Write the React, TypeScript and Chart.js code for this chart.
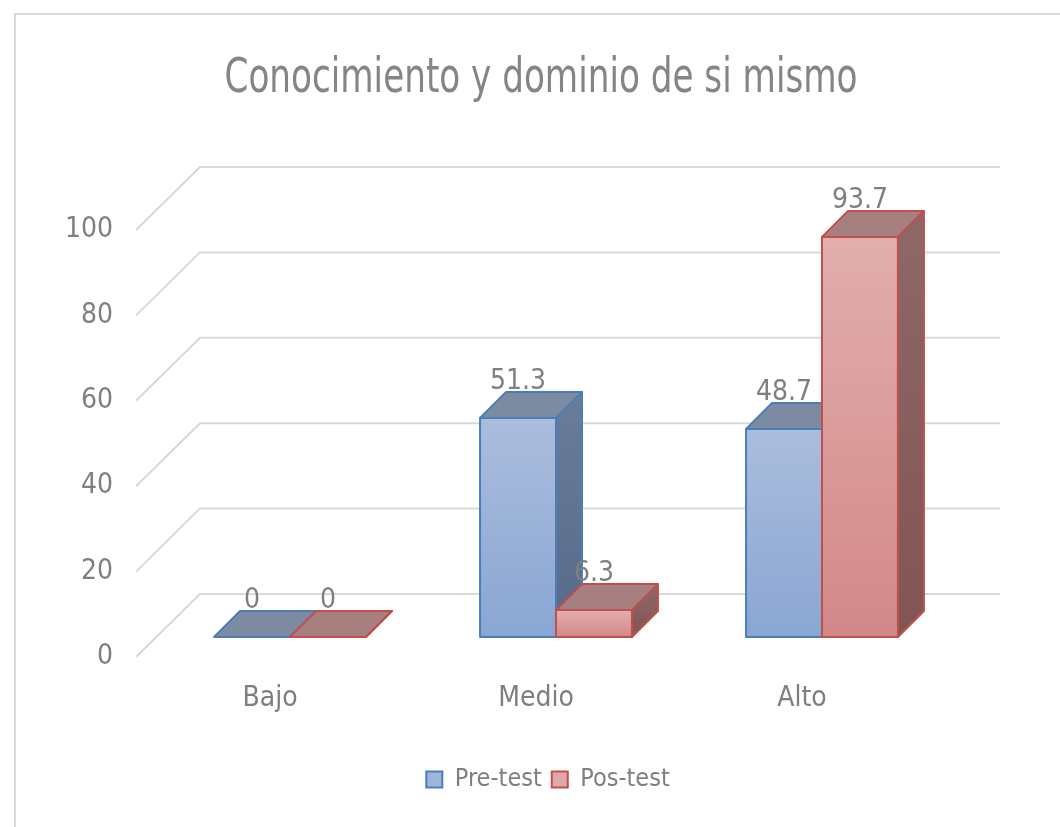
import React, { useEffect, useRef } from 'react';
import { Chart, registerables } from 'chart.js';

Chart.register(...registerables);

const titleText = 'Conocimiento y dominio de si mismo';
const categories = ['Bajo', 'Medio', 'Alto'];
const seriesNames = ['Pre-test', 'Pos-test'];
const preTest = [0, 51.3, 48.7];
const posTest = [0, 6.3, 93.7];
const yTicks = [0, 20, 40, 60, 80, 100];

const FONT = "'DejaVu Sans Condensed', 'Liberation Sans Narrow', 'Liberation Sans', sans-serif";
const TEXT = '#7f7f7f';
const D = 26; // bar depth
const STYLES = [
  { frontTop: '#abbddd', frontBot: '#89a6d3', border: '#4a7ebb', top: '#7d8ba2', sideTop: '#6b7c97', sideBot: '#566a8b', legend: '#9fb5da' },
  { frontTop: '#e2aeae', frontBot: '#d38888', border: '#c0504d', top: '#a68080', sideTop: '#8e6868', sideBot: '#835454', legend: '#e0a8a8' },
];

const titlePlugin = {
  id: 'condensedTitle',
  afterDraw(chart: any) {
    const ctx = chart.ctx;
    ctx.save();
    ctx.font = `48px ${FONT}`;
    ctx.fillStyle = '#858585';
    ctx.textAlign = 'center';
    ctx.textBaseline = 'middle';
    const w = ctx.measureText(titleText).width;
    ctx.translate(541, 80);
    ctx.scale(633 / w, 1);
    ctx.fillText(titleText, 0, 0);
    ctx.restore();
  },
};

const grid3d = {
  id: 'grid3d',
  beforeDatasetsDraw(chart: any) {
    const { ctx, chartArea, scales } = chart;
    const y = scales.y;
    ctx.save();
    ctx.strokeStyle = '#d9d9d9';
    ctx.lineWidth = 2;
    y.ticks.forEach((t: any) => {
      const yp = y.getPixelForValue(t.value);
      ctx.beginPath();
      ctx.moveTo(chartArea.left - 21, yp + 20);
      ctx.lineTo(chartArea.left + 43, yp - 43);
      ctx.lineTo(chartArea.right + 45, yp - 43);
      ctx.stroke();
    });
    ctx.restore();
  },
};

const bar3d = {
  id: 'bar3d',
  afterDatasetsDraw(chart: any) {
    const ctx = chart.ctx;
    chart.data.datasets.forEach((_ds: any, i: number) => {
      const st = STYLES[i];
      const meta = chart.getDatasetMeta(i);
      meta.data.forEach((el: any) => {
        const { x, y, base, width } = el.getProps(['x', 'y', 'base', 'width'], true);
        const x0 = x - width / 2;
        const x1 = x + width / 2;
        ctx.save();
        ctx.lineWidth = 2;
        ctx.strokeStyle = st.border;
        ctx.lineJoin = 'round';
        // front
        if (base - y > 0.5) {
          const gf = ctx.createLinearGradient(0, y, 0, base);
          gf.addColorStop(0, st.frontTop);
          gf.addColorStop(1, st.frontBot);
          ctx.fillStyle = gf;
          ctx.beginPath();
          ctx.rect(x0, y, width, base - y);
          ctx.fill();
          ctx.stroke();
        }
        // top
        ctx.beginPath();
        ctx.moveTo(x0, y);
        ctx.lineTo(x0 + D, y - D);
        ctx.lineTo(x1 + D, y - D);
        ctx.lineTo(x1, y);
        ctx.closePath();
        ctx.fillStyle = st.top;
        ctx.fill();
        ctx.stroke();
        // side
        const g = ctx.createLinearGradient(0, y - D, 0, base);
        g.addColorStop(0, st.sideTop);
        g.addColorStop(1, st.sideBot);
        ctx.beginPath();
        ctx.moveTo(x1, y);
        ctx.lineTo(x1 + D, y - D);
        ctx.lineTo(x1 + D, base - D);
        ctx.lineTo(x1, base);
        ctx.closePath();
        ctx.fillStyle = g;
        ctx.fill();
        ctx.stroke();
        ctx.restore();
      });
    });
    // value labels
    ctx.save();
    ctx.font = `28px ${FONT}`;
    ctx.fillStyle = TEXT;
    ctx.textAlign = 'center';
    ctx.textBaseline = 'alphabetic';
    chart.data.datasets.forEach((ds: any, i: number) => {
      const meta = chart.getDatasetMeta(i);
      meta.data.forEach((el: any, j: number) => {
        const { x, y } = el.getProps(['x', 'y'], true);
        ctx.fillText(String(ds.data[j]), x, y - D - 3);
      });
    });
    ctx.restore();
  },
};

export default function App() {
  const ref = useRef<HTMLCanvasElement>(null);
  useEffect(() => {
    if (!ref.current) return;
    const chart = new Chart(ref.current, {
      type: 'bar',
      data: {
        labels: categories,
        datasets: [
          { label: seriesNames[0], data: preTest, backgroundColor: 'rgba(0,0,0,0)', borderWidth: 0 },
          { label: seriesNames[1], data: posTest, backgroundColor: 'rgba(0,0,0,0)', borderWidth: 0 },
        ],
      },
      options: {
        responsive: false,
        animation: false,
        layout: { padding: { top: 210, left: 36, right: 0, bottom: 25 } },
        datasets: { bar: { categoryPercentage: 0.571, barPercentage: 1 } },
        scales: {
          x: {
            grid: { display: false, drawTicks: false },
            border: { display: false },
            ticks: { color: TEXT, font: { family: FONT, size: 28 }, padding: 45, labelOffset: -20 },
            afterFit: (s: any) => { s.height = 120; },
          },
          y: {
            min: 0,
            max: 100,
            grid: { display: false, drawTicks: false },
            border: { display: false },
            ticks: { color: TEXT, font: { family: FONT, size: 28 }, padding: 44, labelOffset: 20 },
            afterBuildTicks: (s: any) => { s.ticks = yTicks.map((v) => ({ value: v })); },
            afterFit: (s: any) => { s.width = 121; },
          },
          yRight: {
            position: 'right',
            grid: { display: false, drawTicks: false },
            border: { display: false },
            ticks: { display: false },
            afterFit: (s: any) => { s.width = 105; },
          },
        },
        plugins: {
          title: { display: false },
          legend: {
            position: 'bottom',
            labels: {
              color: TEXT,
              font: { family: FONT, size: 25 },
              boxWidth: 16,
              boxHeight: 16,
              padding: 10,
              sort: (a: any, b: any) => a.datasetIndex - b.datasetIndex,
              generateLabels: (ch: any) =>
                Chart.defaults.plugins.legend.labels.generateLabels(ch).map((l: any) => ({
                  ...l,
                  fillStyle: STYLES[l.datasetIndex].legend,
                  strokeStyle: STYLES[l.datasetIndex].border,
                  lineWidth: 2,
                })),
            },
          },
          tooltip: { enabled: false },
        },
      },
      plugins: [grid3d, bar3d, titlePlugin],
    } as any);
    return () => chart.destroy();
  }, []);

  return (
    <div style={{ position: 'fixed', left: 0, top: 0, width: 1060, height: 827, overflow: 'hidden', background: '#fff' }}>
      <div style={{ position: 'absolute', left: 14, top: 13, width: 1100, height: 900, border: '2px solid #d9d9d9', boxSizing: 'border-box' }} />
      <canvas ref={ref} width={1060} height={827} style={{ position: 'absolute', left: 0, top: 0 }} />
    </div>
  );
}
